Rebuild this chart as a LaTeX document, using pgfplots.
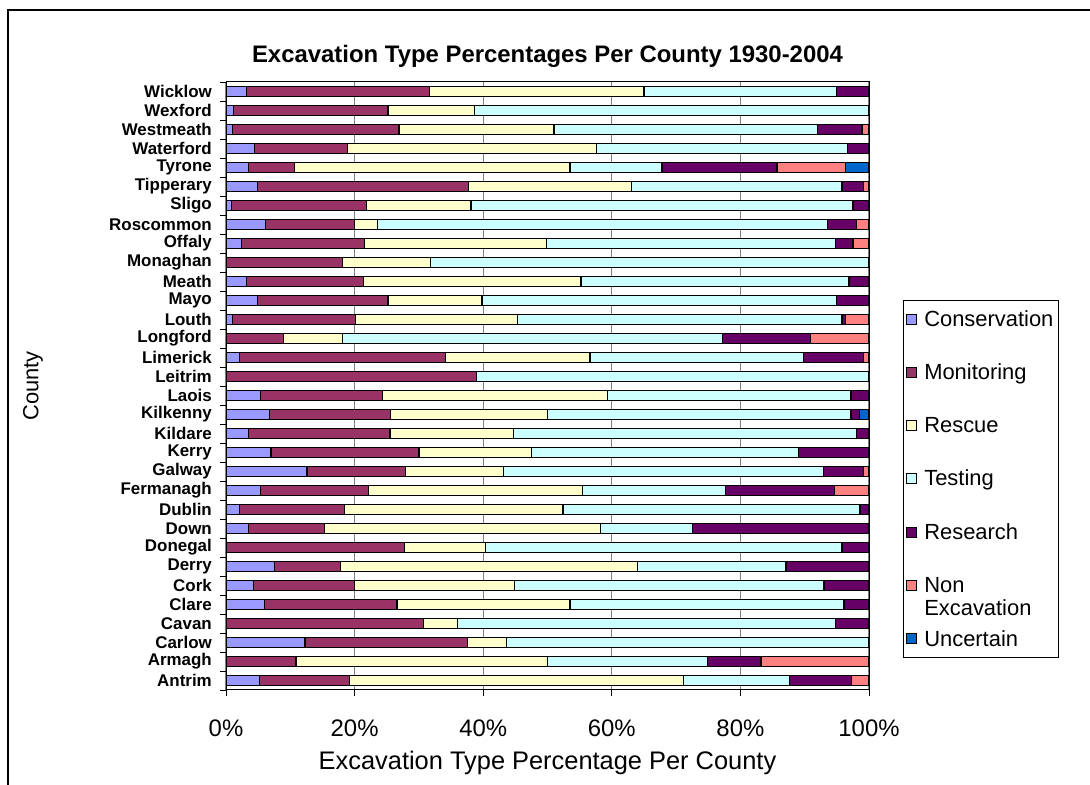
\documentclass[border=0pt]{standalone}
\usepackage{fontspec}
\setmainfont{Liberation Sans}
\usepackage{pgfplots}
\usepackage{pgfplotstable}
\pgfplotsset{compat=1.18}

\definecolor{cons}{HTML}{9999FF}
\definecolor{moni}{HTML}{993366}
\definecolor{resc}{HTML}{FFFFCC}
\definecolor{test}{HTML}{CCFFFF}
\definecolor{rsch}{HTML}{660066}
\definecolor{nonx}{HTML}{FF8080}
\definecolor{unce}{HTML}{0066CC}

% percentage of each excavation type, counties bottom (0) to top (31)
\pgfplotstableread{
y  Cons Mon  Res  Test Rsch Non  Unc
0  5.2  14.0 52.0 16.4 9.7  2.7  0
1  0    10.9 39.1 24.9 8.3  16.8 0
2  12.3 25.3 6.0  56.4 0    0    0
3  0    30.7 5.3  58.8 5.2  0    0
4  6.0  20.6 26.9 42.6 3.9  0    0
5  4.3  15.7 24.9 48.1 7.0  0    0
6  7.6  10.2 46.2 23.1 12.9 0    0
7  0    27.7 12.7 55.4 4.2  0    0
8  3.5  11.8 42.9 14.3 27.5 0    0
9  2.1  16.3 34.0 46.2 1.4  0    0
10 5.4  16.8 33.3 22.2 16.9 5.4  0
11 12.6 15.3 15.2 49.8 6.2  0.9  0
12 7.0  23.0 17.5 41.5 11.0 0    0
13 3.5  22.0 19.2 53.3 2.0  0    0
14 6.8  18.8 24.4 47.2 1.3  0    1.5
15 5.4  19.0 34.9 37.9 2.8  0    0
16 0    38.9 0    61.1 0    0    0
17 2.1  32.0 22.5 33.2 9.3  0.9  0
18 0    9.0  9.1  59.1 13.7 9.1  0
19 1.0  19.1 25.2 50.5 0.5  3.7  0
20 4.9  20.3 14.6 55.2 5.0  0    0
21 3.2  18.2 33.8 41.7 3.1  0    0
22 0    18.1 13.7 68.2 0    0    0
23 2.4  19.2 28.3 44.9 2.7  2.5  0
24 6.2  13.8 3.6  70.0 4.4  2.0  0
25 0.9  21.0 16.2 59.4 2.5  0    0
26 4.9  32.8 25.4 32.7 3.3  0.9  0
27 3.5  7.2  42.8 14.3 17.9 10.7 3.6
28 4.4  14.5 38.7 39.0 3.4  0    0
29 1.0  25.9 24.1 41.0 6.9  1.1  0
30 1.2  24.0 13.5 61.3 0    0    0
31 3.2  28.4 33.4 30.0 5.0  0    0
}\counties

\begin{document}
\begin{tikzpicture}[x=1bp,y=1bp]
\useasboundingbox (0,0) rectangle (1090,785);
\fill[white] (0,0) rectangle (1090,785);
\draw[line width=1.5bp] (8,-20) -- (8,775) -- (1110,775);
\begin{axis}[
    at={(226bp,95bp)}, anchor=south west,
    scale only axis,
    width=643bp, height=608bp,
    xbar stacked,
    bar width=10bp,
    xmin=0, xmax=100,
    ymin=-0.5, ymax=31.5,
    xtick={0,20,40,60,80,100},
    xticklabels={0\%,20\%,40\%,60\%,80\%,100\%},
    ytick={-0.5,0.5,...,31.5},
    y tick label as interval,
    yticklabels={Antrim,Armagh,Carlow,Cavan,Clare,Cork,Derry,Donegal,Down,Dublin,
        Fermanagh,Galway,Kerry,Kildare,Kilkenny,Laois,Leitrim,Limerick,Longford,
        Louth,Mayo,Meath,Monaghan,Offaly,Roscommon,Sligo,Tipperary,Tyrone,
        Waterford,Westmeath,Wexford,Wicklow},
    tick align=outside,
    xtick pos=bottom, ytick pos=left,
    major tick length=6bp,
    tick style={black, line width=0.8bp},
    xmajorgrids,
    major grid style={draw=gray, line width=1.2bp},
    axis line style={black, line width=1bp},
    xticklabel style={font=\fontsize{24}{28}\selectfont, yshift=-20bp},
    yticklabel style={font=\fontsize{17}{17}\selectfont\bfseries, anchor=east, inner sep=0pt, xshift=-8bp},
    title={Excavation Type Percentages Per County 1930-2004},
    title style={font=\fontsize{24}{28}\selectfont\bfseries, at={(axis description cs:0.5,1.032)}, anchor=center},
    xlabel={Excavation Type Percentage Per County},
    xlabel style={font=\fontsize{25.5}{29}\selectfont, at={(axis description cs:0.5,-0.12)}, anchor=center},
    ylabel={County},
    ylabel style={font=\fontsize{22}{26}\selectfont, at={(axis description cs:-0.3,0.5)}, anchor=center},
    every axis plot/.append style={draw=black, line width=1.2bp},
    legend style={at={(rel axis cs:1.053,0.641)}, anchor=north west,
        draw=black, line width=0.8bp, inner xsep=3bp, inner ysep=8bp,
        row sep=32bp, font=\fontsize{22}{23}\selectfont,
        /tikz/every odd column/.append style={column sep=5bp}},
    legend cell align=left,
    legend image code/.code={\draw[#1, draw=black, line width=0.8bp] (0bp,-5bp) rectangle (10bp,5bp);},
]
\addplot[fill=cons] table[x=Cons, y=y]{\counties};
\addplot[fill=moni] table[x=Mon, y=y]{\counties};
\addplot[fill=resc] table[x=Res, y=y]{\counties};
\addplot[fill=test] table[x=Test, y=y]{\counties};
\addplot[fill=rsch] table[x=Rsch, y=y]{\counties};
\addplot[fill=nonx] table[x=Non, y=y]{\counties};
\addplot[fill=unce] table[x=Unc, y=y]{\counties};
\legend{Conservation,Monitoring,Rescue,Testing,Research,
    {\begin{tabular}[t]{@{}l@{}}Non\\Excavation\end{tabular}},Uncertain}
\end{axis}
\end{tikzpicture}
\end{document}
